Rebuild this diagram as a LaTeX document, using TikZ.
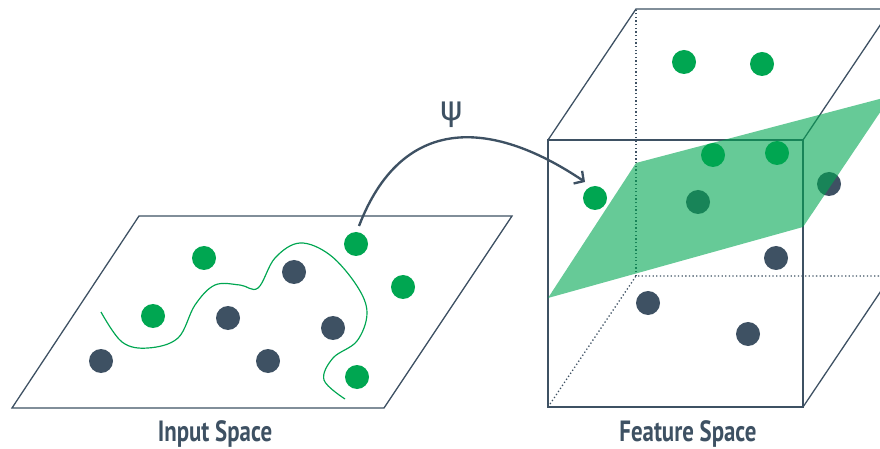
\documentclass[tikz,border=0pt]{standalone}
\usepackage{fontspec}
\usepackage{tikz}
\usetikzlibrary{arrows.meta, positioning, calc}
\newfontfamily\labelfont{PT Sans}[FakeStretch=0.78]
\newfontfamily\psifont{DejaVu Sans}

\definecolor{slate}{RGB}{62,81,99}
\definecolor{leaf}{RGB}{0,166,81}

\tikzset{
    greendot/.style={circle, fill=leaf, inner sep=0pt, minimum size=0.72cm},
    darkdot/.style={circle, fill=slate, inner sep=0pt, minimum size=0.72cm},
    edge/.style={draw=slate, line width=1.1pt},
    hidden/.style={draw=slate, line width=1.1pt, dotted},
    caption/.style={font=\labelfont\bfseries\fontsize{25}{27}\selectfont, text=slate}
}

\begin{document}
\begin{tikzpicture}[x=0.03cm, y=0.03cm]
    \useasboundingbox (0,0) rectangle (880,448);
    \clip (0,0) rectangle (880,448);

    % Mặt phẳng đầu vào
    \draw[edge, line join=miter] (139,232) -- (512,232) -- (384,40) -- (12,40) -- cycle;

    % Đường phân tách (cong)
    \draw[leaf, line width=1pt] plot[smooth, tension=0.6] coordinates {
        (101,136) (122,106) (148,100) (178,110) (195,143) (215,163) (240,163)
        (258,160) (275,190) (300,205) (330,193) (357,162) (367,135) (357,107)
        (333,90) (324,68) (345,49)};

    % Điểm trong không gian đầu vào
    \foreach \n/\x/\y in {a/204/190, b/153/132, c/356/204, d/403/161, e/357/71} {
        \node[greendot] (in\n) at (\x,\y) {};
    }
    \foreach \n/\x/\y in {f/294/176, g/228/130, h/333/120, i/101/87, j/268/87} {
        \node[darkdot] (in\n) at (\x,\y) {};
    }

    % Hình hộp (không gian đặc trưng)
    \coordinate (fbl) at (548,41);
    \coordinate (fbr) at (803,41);
    \coordinate (ftr) at (803,308);
    \coordinate (ftl) at (548,308);
    \coordinate (bbl) at (636,172);
    \coordinate (bbr) at (891,172);
    \coordinate (btr) at (891,439);
    \coordinate (btl) at (636,439);
    \draw[hidden] (fbl) -- (bbl) -- (bbr);
    \draw[hidden] (bbl) -- (btl);
    \draw[edge] (fbl) rectangle (ftr);
    \draw[edge] (ftl) -- (btl) -- (btr);
    \draw[edge] (ftr) -- (btr);
    \draw[edge] (fbr) -- (bbr);

    % Điểm nằm sau siêu phẳng
    \node[darkdot] (fsf) at (698,246) {};
    \node[darkdot] (fsg) at (829,264) {};

    % Siêu phẳng
    \fill[leaf, fill opacity=0.6] (548,150) -- (803,221) -- (891,352) -- (636,285) -- cycle;

    % Điểm trong không gian đặc trưng
    \foreach \n/\x/\y in {a/684/386, b/762/384, c/713/293, d/777/295, e/595/250} {
        \node[greendot] (fs\n) at (\x,\y) {};
    }
    \foreach \n/\x/\y in {h/776/190, i/648/145, j/748/114} {
        \node[darkdot] (fs\n) at (\x,\y) {};
    }

    % Ánh xạ psi
    \coordinate (psistart) at (359,222);
    \coordinate (psiend) at (585,266);
    \draw[slate, line width=2pt, -{Straight Barb[length=6pt, width=13pt, line width=2pt]}]
        (psistart) to[out=69, in=146, looseness=1.3] (psiend);
    \node[text=slate, font=\psifont\fontsize{29}{31}\selectfont] (psi) at (452,333) {ψ};

    % Nhãn
    \node[caption] (inlabel) at (215,14) {Input Space};
    \node[caption] (fslabel) at (688,14) {Feature Space};
\end{tikzpicture}
\end{document}
